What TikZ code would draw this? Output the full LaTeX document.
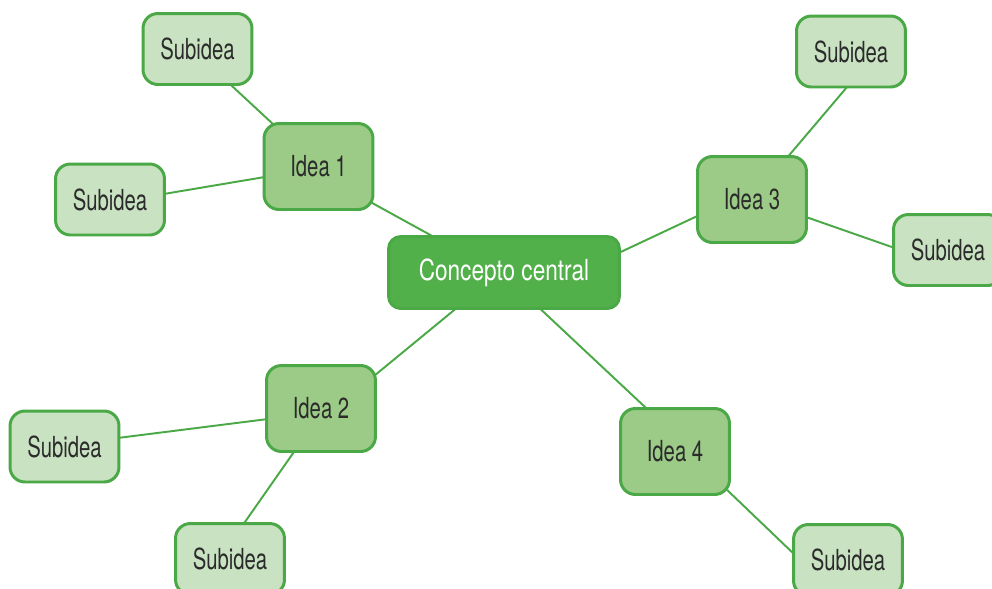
\documentclass[tikz,border=0pt]{standalone}
\usepackage{fontspec}
\setmainfont[FakeStretch=0.7]{TeX Gyre Heros}
\newfontfamily\centralfont[FakeStretch=0.78]{TeX Gyre Heros}
\usetikzlibrary{backgrounds}
\definecolor{mapline}{HTML}{4AA846}
\definecolor{centralfill}{HTML}{52B04A}
\definecolor{ideafill}{HTML}{9CCB87}
\definecolor{subfill}{HTML}{C9E2C1}
\definecolor{maptext}{HTML}{2B2B2B}

\begin{document}
\begin{tikzpicture}[x=0.02cm, y=-0.02cm]
    % Styling
    \tikzset{
        c_box/.style={draw=mapline, line width=1.7pt, inner sep=0pt, text=maptext, rounded corners=8.5pt, font=\fontsize{16.5}{18}\selectfont},
        c_central/.style={c_box, fill=centralfill, text=white, rounded corners=7pt, minimum width=4.62cm, minimum height=1.44cm, font=\centralfont\fontsize{16.5}{18}\selectfont},
        c_idea/.style={c_box, fill=ideafill, minimum width=2.18cm, minimum height=1.72cm},
        c_sub/.style={c_box, fill=subfill, minimum width=2.18cm, minimum height=1.42cm},
        c_link/.style={draw=mapline, line width=1.1pt, shorten <=-3pt, shorten >=-3pt}
    }

    \useasboundingbox (0,0) rectangle (992,589);

    % Central concept and ideas
    \node[c_central] (C) at (504,272.5) {Concepto central};
    \node[c_idea] (I1) at (318.5,166.5) {Idea 1};
    \node[c_idea] (I2) at (321,408.5) {Idea 2};
    \node[c_idea] (I3) at (752,199.5) {Idea 3};
    \node[c_idea] (I4) at (675,451.5) {Idea 4};

    % Subideas
    \node[c_sub] (S1a) at (197.5,49) {Subidea};
    \node[c_sub] (S1b) at (110,199.5) {Subidea};
    \node[c_sub] (S2a) at (64.5,446.5) {Subidea};
    \node[c_sub] (S2b) at (230,559) {Subidea};
    \node[c_sub] (S3a) at (851,51.5) {Subidea};
    \node[c_sub] (S3b) at (948,250) {Subidea};
    \node[c_sub] (S4) at (848,560) {Subidea};

    % Links
    \begin{scope}[on background layer]
        \draw[c_link] (I1.326) -- (C.153);
        \draw[c_link] (I2.32) -- (C.217);
        \draw[c_link] (I3.197) -- (C.10);
        \draw[c_link] (I4.124) -- (C.315);
        \draw[c_link] (S1a.313) -- (I1.137);
        \draw[c_link] (S1b.6) -- (I1.191);
        \draw[c_link] (S2a.9) -- (I2.191);
        \draw[c_link] (I2.238) -- (S2b.68);
        \draw[c_link] (I3.50) -- (S3a.262);
        \draw[c_link] (I3.342) -- (S3b.177);
        \draw[c_link] (I4.323) -- (S4.172);
    \end{scope}
\end{tikzpicture}
\end{document}
